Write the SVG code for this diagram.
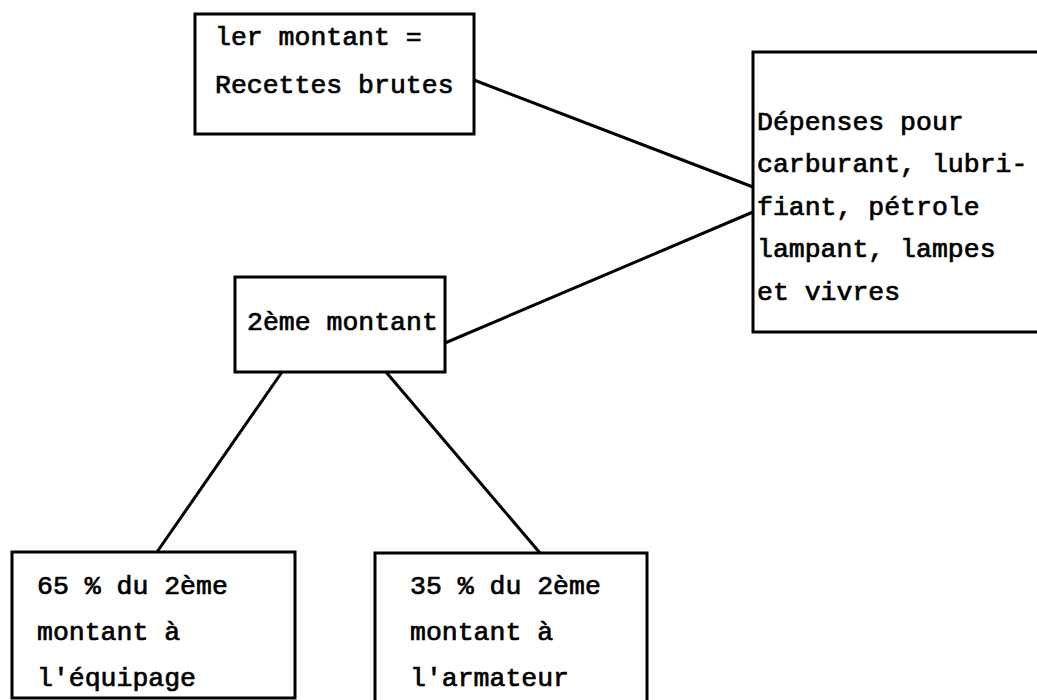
<svg xmlns="http://www.w3.org/2000/svg" width="1037" height="700" viewBox="0 0 1037 700">
<style>
.box{fill:#fff;stroke:#000;stroke-width:3}
.t{font-family:"Liberation Mono","Courier New",monospace;font-size:26.5px;fill:#000;stroke:#000;stroke-width:0.7}
.c{stroke:#000;stroke-width:3;fill:none}
</style>
<rect width="1037" height="700" fill="#fff"/>
<g id="connectors">
<line class="c" x1="474" y1="80" x2="753" y2="187"/>
<line class="c" x1="445" y1="343" x2="753" y2="212"/>
<line class="c" x1="282" y1="372" x2="157" y2="552"/>
<line class="c" x1="386" y1="372" x2="540" y2="553"/>
</g>
<g id="n1">
<rect class="box" x="195" y="14" width="279" height="120"/>
<text class="t" x="215" y="45">ler montant =</text>
<text class="t" x="215" y="93">Recettes brutes</text>
</g>
<g id="n2">
<rect class="box" x="753" y="52" width="300" height="280"/>
<text class="t" x="757" y="130">Dépenses pour</text>
<text class="t" x="757" y="172">carburant, lubri-</text>
<text class="t" x="757" y="215">fiant, pétrole</text>
<text class="t" x="757" y="257">lampant, lampes</text>
<text class="t" x="757" y="300">et vivres</text>
</g>
<g id="n3">
<rect class="box" x="235" y="277" width="210" height="95"/>
<text class="t" x="247" y="330">2ème montant</text>
</g>
<g id="n4">
<rect class="box" x="12" y="552" width="283" height="146"/>
<text class="t" x="37" y="594">65 % du 2ème</text>
<text class="t" x="37" y="640">montant à</text>
<text class="t" x="37" y="686">l'équipage</text>
</g>
<g id="n5">
<rect class="box" x="375" y="553" width="272" height="150"/>
<text class="t" x="410" y="594">35 % du 2ème</text>
<text class="t" x="410" y="640">montant à</text>
<text class="t" x="410" y="686">l'armateur</text>
</g>
</svg>
